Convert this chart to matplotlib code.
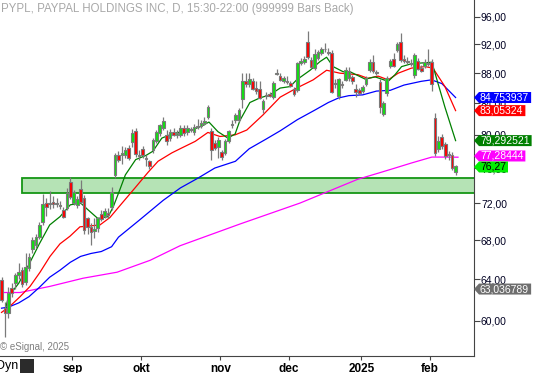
import matplotlib
matplotlib.use("Agg")
import matplotlib.pyplot as plt
from matplotlib.patches import Rectangle, Polygon
from matplotlib.transforms import IdentityTransform
from matplotlib.ticker import FixedLocator, NullLocator, FuncFormatter

plt.rcParams['font.family'] = ['Liberation Sans', 'DejaVu Sans']

# daily bars PYPL, early Aug 2024 .. mid Feb 2025 (bar index 0..132)
opens = [63.9, 61.2, 60.7, 63.1, 63.6, 64.4, 64.9, 63.7, 65.1, 67.1,
         67.5, 68.3, 69.9, 72.0, 71.9, 72.1, 71.9, 71.8, 71.2, 71.4,
         74.4, 72.0, 71.8, 73.6, 72.6, 70.3, 69.4, 69.0, 69.3, 70.8,
         70.6, 70.9, 71.6, 75.2, 77.5, 77.5, 77.6, 78.4, 79.1, 80.5,
         77.4, 78.3, 77.2, 76.8, 78.1, 79.3, 80.2, 80.9, 80.0, 79.6,
         80.4, 80.0, 80.0, 80.8, 80.3, 80.7, 80.3, 81.0, 81.1, 81.5,
         82.3, 80.5, 79.0, 78.5, 77.9, 77.8, 79.3, 81.2, 81.8, 81.9,
         84.6, 86.9, 86.5, 86.9, 86.0, 85.9, 83.2, 84.9, 85.2, 84.8,
         87.9, 87.6, 87.0, 86.9, 86.7, 85.9, 85.8, 89.4, 89.6, 92.3,
         89.8, 88.7, 90.1, 90.8, 91.4, 90.9, 90.8, 86.5, 85.0, 86.6,
         87.1, 87.3, 87.5, 85.9, 85.7, 85.6, 86.6, 88.5, 89.6, 88.1,
         86.8, 82.6, 85.4, 89.0, 89.9, 91.2, 92.4, 89.9, 89.6, 89.4,
         87.8, 89.7, 88.7, 89.0, 89.3, 89.6, 82.1, 78.3, 79.7, 78.9,
         77.6, 77.6, 75.5]
highs = [64.2, 61.8, 63.2, 63.6, 64.6, 65.6, 65.2, 66.7, 66.6, 68.3,
         68.6, 69.9, 73.0, 72.6, 73.4, 72.8, 72.6, 72.2, 71.6, 73.7,
         74.9, 73.5, 72.8, 74.6, 72.9, 70.5, 69.8, 70.3, 70.5, 71.2,
         71.4, 71.4, 73.8, 77.8, 78.0, 78.6, 78.5, 78.7, 80.7, 80.8,
         78.2, 78.6, 77.6, 77.0, 79.6, 80.6, 81.4, 82.3, 80.6, 80.7,
         80.8, 80.6, 81.2, 81.2, 81.2, 81.0, 81.3, 82.0, 81.8, 82.2,
         83.8, 80.9, 79.4, 79.7, 78.2, 79.5, 80.6, 81.9, 82.7, 83.4,
         88.0, 88.0, 88.0, 87.3, 86.9, 86.9, 84.6, 85.5, 85.5, 87.0,
         88.6, 88.0, 87.6, 87.6, 87.0, 86.2, 89.6, 90.1, 90.4, 93.9,
         90.3, 91.3, 91.2, 91.6, 92.2, 91.5, 91.2, 87.2, 87.4, 87.0,
         88.8, 88.9, 87.8, 86.5, 86.0, 86.4, 87.6, 89.9, 90.5, 88.4,
         87.2, 84.3, 87.6, 90.0, 90.8, 92.4, 93.7, 90.5, 90.2, 89.9,
         90.8, 90.1, 89.1, 89.9, 91.4, 90.0, 82.8, 79.8, 80.1, 79.1,
         78.0, 77.9, 76.4]
lows = [61.8, 58.5, 60.3, 62.3, 63.0, 64.0, 63.2, 63.4, 64.8, 66.6,
        67.2, 68.1, 69.6, 70.6, 71.3, 71.5, 71.6, 71.3, 70.3, 71.2,
        72.5, 71.8, 71.5, 71.9, 68.6, 68.6, 67.5, 68.2, 68.9, 70.0,
        70.3, 70.4, 71.2, 74.8, 76.7, 76.5, 77.2, 76.9, 78.5, 77.3,
        76.9, 77.2, 76.2, 75.9, 77.8, 79.0, 79.9, 80.6, 78.8, 79.3,
        79.8, 79.6, 79.7, 79.9, 80.0, 80.3, 80.0, 80.7, 80.8, 81.2,
        82.0, 77.0, 78.2, 77.2, 77.0, 77.5, 79.0, 80.9, 81.5, 81.6,
        83.4, 86.2, 86.2, 85.7, 85.2, 84.5, 82.8, 84.6, 84.8, 84.6,
        87.7, 86.9, 86.7, 86.6, 86.1, 85.0, 85.5, 89.1, 89.3, 89.9,
        88.7, 88.4, 89.8, 90.5, 91.0, 90.5, 85.3, 86.0, 84.6, 86.0,
        86.9, 87.0, 86.6, 84.8, 85.1, 85.3, 86.3, 88.2, 88.0, 87.7,
        82.8, 82.4, 85.0, 88.7, 88.8, 91.0, 89.5, 89.4, 89.2, 89.0,
        87.3, 88.4, 88.1, 88.7, 89.0, 85.6, 77.4, 77.9, 78.3, 77.1,
        77.0, 75.8, 75.2]
closes = [62.0, 60.7, 62.7, 62.7, 64.4, 64.7, 63.5, 65.2, 66.2, 68.0,
          68.3, 69.6, 71.9, 71.6, 72.0, 71.9, 72.0, 71.7, 70.5, 73.1,
          72.7, 73.2, 72.5, 72.1, 69.1, 69.4, 68.9, 69.1, 70.3, 70.2,
          71.1, 70.7, 73.2, 77.5, 76.9, 77.8, 78.2, 77.2, 80.2, 77.7,
          77.6, 77.6, 77.1, 76.2, 79.4, 80.4, 81.2, 81.7, 79.2, 80.4,
          80.0, 80.2, 80.9, 80.2, 80.9, 80.6, 81.0, 81.1, 81.5, 81.7,
          83.5, 78.2, 78.4, 79.4, 77.3, 79.2, 80.5, 81.4, 82.5, 83.1,
          86.9, 86.5, 87.2, 85.9, 85.6, 84.7, 84.3, 85.0, 85.0, 86.7,
          88.0, 87.1, 87.3, 86.8, 86.3, 85.2, 89.4, 89.7, 90.0, 90.2,
          88.9, 90.6, 90.9, 91.4, 91.3, 90.8, 85.5, 86.7, 87.2, 86.4,
          88.5, 88.3, 86.9, 85.5, 85.3, 86.1, 87.4, 89.6, 88.3, 88.0,
          83.5, 84.0, 87.3, 89.7, 89.0, 92.1, 89.8, 89.7, 89.5, 89.3,
          90.5, 88.6, 88.3, 89.6, 89.3, 86.6, 77.8, 79.2, 78.6, 77.4,
          77.5, 76.0, 76.27]

# moving averages (bar index, value)
ma_fast_idx = [1, 2, 5, 8, 11, 14, 17, 20, 23, 25, 28, 31, 32.5, 34.4, 36, 39,
               42, 44, 46.6, 49.5, 52.4, 55.3, 58.2, 60.3, 62.9, 65.8, 67.9,
               69.3, 72.2, 75.1, 78, 81, 83.9, 85.8, 89.7, 92.6, 94.5, 96.4,
               99.3, 101.3, 105.7, 108.6, 112.4, 114.4, 116.3, 119.2, 125.1,
               126.9, 128.9, 132]
ma_fast = [60.9, 62.3, 63.6, 65.5, 67.6, 69.6, 70.5, 71.8, 72.0, 71.3, 70.3,
           70.5, 71.6, 73.5, 75.2, 77.0, 77.5, 78.0, 79.6, 80.1, 80.4, 80.6,
           81.1, 81.6, 80.4, 79.6, 80.1, 81.8, 84.1, 84.7, 85.1, 86.0, 86.2,
           87.1, 88.4, 89.6, 90.2, 88.9, 88.2, 88.2, 87.2, 87.5, 86.9, 87.8,
           88.9, 89.3, 89.5, 86.6, 83.5, 79.29]
ma_mid_idx = [0, 2.5, 5.4, 8.3, 11.2, 14.1, 17, 19.9, 22.8, 25.7, 28.6, 31.5,
              34.4, 38.8, 42.6, 45.5, 49.5, 52.4, 56.3, 60, 63.5, 67.9, 71.3,
              76, 81, 85.8, 90.6, 94.5, 98.4, 103.6, 106.5, 109.5, 112.4,
              115.3, 119.2, 123.1, 125.4, 128.9, 132]
ma_mid = [60.8, 61.4, 62.3, 63.3, 64.7, 66.3, 67.6, 68.4, 69.4, 69.5, 69.6,
          70.4, 71.7, 73.7, 75.5, 76.8, 77.8, 78.4, 79.2, 80.3, 79.8, 80.0,
          80.6, 82.5, 84.8, 86.0, 87.1, 88.4, 88.0, 87.8, 87.3, 87.6, 87.1,
          88.0, 88.7, 88.9, 88.7, 86.2, 83.05324]
ma_slow_idx = [0, 2, 5, 8, 11, 14, 17, 20, 23, 26, 29, 32, 34, 40, 47, 52, 57,
               62, 68, 72, 77, 81, 86, 91, 95, 98, 101, 105, 109, 113, 117,
               122, 125, 128, 132]
ma_slow = [61.2, 61.3, 61.7, 62.3, 63.2, 64.2, 64.9, 65.7, 66.3, 66.6, 66.8,
           67.3, 68.3, 70.1, 72.3, 73.7, 74.8, 76.0, 76.8, 78.3, 79.5, 80.5,
           81.9, 83.1, 84.1, 84.7, 85.0, 85.1, 85.6, 85.7, 86.4, 86.9, 87.1,
           86.6, 84.753937]
ma_long_idx = [0, 5.4, 14.1, 23.7, 33.6, 43.2, 51.9, 69.3, 86.8, 103.6, 109.5,
               114.4, 119.2, 125.1, 128.9, 132.7]
ma_long = [62.7, 62.7, 63.3, 64.1, 64.7, 65.9, 67.4, 69.7, 72.0, 74.7, 75.4,
           76.0, 76.6, 77.3, 77.3, 77.28444]

zone_low, zone_high, zone_start = 73.15, 74.8, 6

month_idx = [21, 41, 64, 84, 105, 125]
month_lbl = ["sep", "okt", "nov", "dec", "2025", "feb"]
price_ticks = [60, 64, 68, 72, 76, 80, 84, 88, 92, 96]

# right side value tags: (value, text, background, text colour)
tags = [
    (84.753937, "84,753937", "#0000ff", "white"),
    (83.05324, "83,05324", "#ff0000", "white"),
    (79.292521, "79,292521", "#008000", "white"),
    (77.28444, "77,28444", "#ff00ff", "white"),
    (76.27, "76,27", "#00ee00", "black"),
    (63.036789, "63,036789", "#6e6e6e", "white"),
]

W, H = 534, 373
fig = plt.figure(figsize=(W / 100, H / 100), dpi=100)
ax = fig.add_axes([0, 17 / H, 474 / W, 356 / H])
ax.set_yscale("log")
ax.set_xlim(-0.44, 137.35)
ax.set_ylim(56.84, 98.54)

# support zone
ax.add_patch(Rectangle((zone_start, zone_low), 200, zone_high - zone_low,
                       facecolor="#b5e3b5", edgecolor="#159615", lw=1.3, zorder=1))

# moving averages
ax.plot(ma_long_idx, ma_long, color="#ff00ff", lw=0.9, zorder=2)
ax.plot(ma_slow_idx, ma_slow, color="#0000ff", lw=0.9, zorder=2)
ax.plot(ma_mid_idx, ma_mid, color="#ff0000", lw=0.9, zorder=2)
ax.plot(ma_fast_idx, ma_fast, color="#008000", lw=0.9, zorder=2)

# candles
idx = list(range(len(closes)))
ax.vlines(idx, lows, highs, color="#7a7a7a", lw=0.9, zorder=3)
body_bottom = [min(o, c) for o, c in zip(opens, closes)]
body_height = [max(abs(c - o), 0.12) for o, c in zip(opens, closes)]
body_color = ["#11e011" if c >= o else "#ff0000" for o, c in zip(opens, closes)]
ax.bar(idx, body_height, bottom=body_bottom, width=0.78, color=body_color,
       edgecolor="#7a7a7a", linewidth=0.8, zorder=4)

# axes styling
for s in ["left", "top"]:
    ax.spines[s].set_visible(False)
ax.spines["bottom"].set_color("#444444")
ax.spines["right"].set_color("#444444")
ax.yaxis.tick_right()
ax.yaxis.set_major_locator(FixedLocator(price_ticks))
ax.yaxis.set_minor_locator(NullLocator())
ax.yaxis.set_major_formatter(FuncFormatter(lambda v, p: f"{v:.2f}".replace(".", ",")))
ax.tick_params(axis="y", length=4, width=0.8, color="#444444", pad=1,
               labelsize=7.5, labelcolor="#000022")
ax.set_xticks([m - 0.4 for m in month_idx])
ax.set_xticklabels(month_lbl, fontweight="bold")
ax.tick_params(axis="x", length=3, width=0.8, color="#444444", pad=2,
               labelsize=8.5, labelcolor="black")

fig.text(1 / W, 1 - 9 / H, "PYPL, PAYPAL HOLDINGS INC, D, 15:30-22:00 (999999 Bars Back)",
         ha="left", va="center", fontsize=8.3, color="#a8a8a8")
fig.text(0, 1 - 347 / H, "\u00a9 eSignal, 2025", ha="left", va="center",
         fontsize=7, color="#808080")
fig.text(-4 / W, 1 - 366 / H, "Dyn", ha="left", va="center", fontsize=9, color="black")
fig.patches.append(Rectangle((20 / W, 1 - 373 / H), 14 / W, 14 / H,
                             transform=fig.transFigure, facecolor="#2b2b2b",
                             edgecolor="none"))

# value tags on the price scale, spread apart where they collide
fig.canvas.draw()
renderer = fig.canvas.get_renderer()
ypix = [ax.transData.transform((0, v))[1] for v, _, _, _ in tags]
order = sorted(range(len(tags)), key=lambda k: -ypix[k])
half = 5.5
for _ in range(10):
    for a, b in zip(order[:-1], order[1:]):
        gap = ypix[a] - ypix[b]
        if gap < 2 * half:
            push = (2 * half - gap) / 2
            ypix[a] += push
            ypix[b] -= push
x_axis = ax.transAxes.transform((1, 0))[0]
for (val, txt, bg, fg), yp in zip(tags, ypix):
    t = fig.text(x_axis + 6, yp, txt, transform=IdentityTransform(), ha="left",
                 va="center", fontsize=7.5, color=fg, zorder=6)
    w = t.get_window_extent(renderer).width
    xr = x_axis + 6 + w + 2
    fig.patches.append(Polygon([(x_axis, yp), (x_axis + 5, yp + half), (xr, yp + half),
                                (xr, yp - half), (x_axis + 5, yp - half)],
                               closed=True, transform=IdentityTransform(),
                               facecolor=bg, edgecolor="none", zorder=5))

fig.savefig("out.png", dpi=100)
